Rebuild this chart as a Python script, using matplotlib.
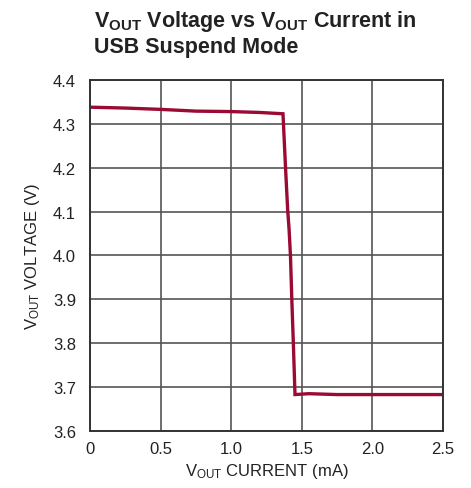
import numpy as np
import matplotlib
matplotlib.use("Agg")
import matplotlib.pyplot as plt

plt.rcParams['font.family'] = ['Liberation Sans', 'DejaVu Sans']
plt.rcParams['mathtext.fontset'] = 'custom'
plt.rcParams['mathtext.rm'] = 'Liberation Sans'
plt.rcParams['mathtext.it'] = 'Liberation Sans'
plt.rcParams['mathtext.bf'] = 'Liberation Sans:bold'

# Données
current_ma = [0.0, 0.25, 0.5, 0.75, 1.0, 1.2, 1.367, 1.385, 1.40, 1.41, 1.42,
              1.43, 1.44, 1.452, 1.55, 1.75, 2.0, 2.25, 2.5]
vout_v = [4.338, 4.336, 4.333, 4.329, 4.328, 4.326, 4.323, 4.20, 4.105, 4.06,
          3.999, 3.895, 3.803, 3.683, 3.685, 3.683, 3.683, 3.683, 3.683]

x_ticks = [0, 0.5, 1.0, 1.5, 2.0, 2.5]
x_labels = ['0', '0.5', '1.0', '1.5', '2.0', '2.5']
y_ticks = [3.6, 3.7, 3.8, 3.9, 4.0, 4.1, 4.2, 4.3, 4.4]

fig = plt.figure(figsize=(4.71, 4.89), dpi=100)
ax = fig.add_axes([0.191, 0.1166, 0.7495, 0.7178])

ax.plot(current_ma, vout_v, color='#9b0a33', lw=2.4, solid_joinstyle='miter')

ax.set_xlim(0, 2.5)
ax.set_ylim(3.6, 4.4)
ax.set_xticks(x_ticks)
ax.set_xticklabels(x_labels)
ax.set_yticks(y_ticks)
ax.set_yticklabels([f'{v:.1f}' for v in y_ticks])
ax.tick_params(length=0, labelsize=12, colors='#222222')
ax.tick_params(axis='x', pad=7)
ax.tick_params(axis='y', pad=10)
ax.grid(True, color='#555555', lw=1.2)
for s in ax.spines.values():
    s.set_color('#333333')
    s.set_linewidth(1.4)

ax.set_xlabel(r'V$_{\mathrm{OUT}}$ CURRENT (mA)', fontsize=12, color='#222222', labelpad=4)
ax.set_ylabel(r'V$_{\mathrm{OUT}}$ VOLTAGE (V)', fontsize=12, color='#222222', labelpad=8)

fig.text(0.2, 0.982, r'V$_{\mathbf{OUT}}$ Voltage vs V$_{\mathbf{OUT}}$ Current in' + '\nUSB Suspend Mode',
         fontsize=15.5, fontweight='bold', color='#222222', va='top', ha='left', linespacing=1.2)

fig.savefig('out.png', dpi=100)
